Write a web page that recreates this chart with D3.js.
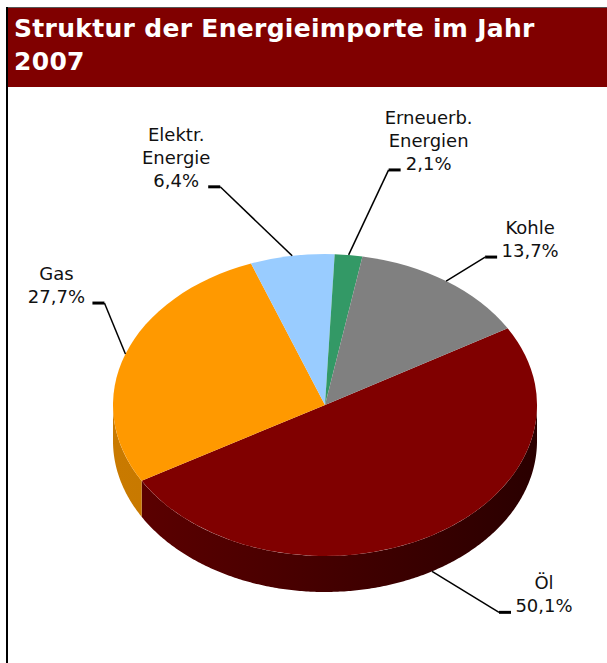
<!DOCTYPE html>
<html>
<head>
<meta charset="utf-8">
<script src="https://cdn.jsdelivr.net/npm/d3@7"></script>
<style>
  body { margin: 0; background: #fff; }
  svg { display: block; font-family: "DejaVu Sans", Verdana, sans-serif; }
</style>
</head>
<body>
<svg class="chart"></svg>
<script>
const categories = ['Öl', 'Gas', 'Elektr. Energie', 'Erneuerb. Energien', 'Kohle'];
const labelLines = [['Öl'], ['Gas'], ['Elektr.', 'Energie'], ['Erneuerb.', 'Energien'], ['Kohle']];
const shares = [50.1, 27.7, 6.4, 2.1, 13.7];
const colors = ['#800000', '#ff9900', '#99ccff', '#339966', '#808080'];
const sideColors = [['#5e0000', '#2a0000'], ['#c97a00', '#b86e00'], ['#6f97c0', '#6f97c0'], ['#22704a', '#22704a'], ['#5a5a5a', '#5a5a5a']];
// label elbow offset from anchor, tick direction, text centre offset from elbow
const labelLayout = [
  { dx: 67, dy: 41, dir: 1, tx: 45 },
  { dx: -21, dy: -51, dir: -1, tx: -48 },
  { dx: -72, dy: -69, dir: -1, tx: -44 },
  { dx: 40, dy: -85, dir: 1, tx: 40 },
  { dx: 39, dy: -24, dir: 1, tx: 45 },
];
const title = ['Struktur der Energieimporte im Jahr', '2007'];

const [width, height] = [607, 663];
const svg = d3.select('.chart').attr('width', width).attr('height', height);

svg.append('line').attr('x1', 6).attr('x2', width).attr('y1', 7.5).attr('y2', 7.5)
  .attr('stroke', '#555').attr('stroke-width', 1);
svg.append('rect').attr('x', 6).attr('y', 8).attr('width', width - 6).attr('height', 79).attr('fill', '#800000');
svg.append('line').attr('x1', 7).attr('x2', 7).attr('y1', 7).attr('y2', height)
  .attr('stroke', '#000').attr('stroke-width', 2);
svg.append('g').selectAll('text').data(title).enter().append('text')
  .attr('x', 14).attr('y', (d, i) => 37 + i * 33)
  .attr('fill', '#fff').attr('font-weight', 'bold').attr('font-size', 25)
  .attr('letter-spacing', 0.3)
  .text(d => d);

const [cx, cy, rx, ry, depth] = [325, 405, 212, 151, 36];
const start = 59.5 * Math.PI / 180;
const pie = d3.pie().sort(null).startAngle(start).endAngle(start + 2 * Math.PI);
const arcs = pie(shares);

const pt = (a, off = 0) => [cx + rx * Math.sin(a), cy - ry * Math.cos(a) + off];

const defs = svg.append('defs');
arcs.forEach((d, i) => {
  const g = defs.append('linearGradient').attr('id', `side${i}`)
    .attr('gradientUnits', 'userSpaceOnUse')
    .attr('x1', cx - rx).attr('x2', cx + rx).attr('y1', 0).attr('y2', 0);
  g.append('stop').attr('offset', 0).attr('stop-color', sideColors[i][0]);
  g.append('stop').attr('offset', 1).attr('stop-color', sideColors[i][1]);
});

// side walls for the front half
const sides = svg.append('g');
arcs.forEach((d, i) => {
  const segs = [];
  [0, 2 * Math.PI].forEach(shift => {
    const a0 = Math.max(d.startAngle - shift, Math.PI / 2);
    const a1 = Math.min(d.endAngle - shift, 3 * Math.PI / 2);
    if (a1 > a0) segs.push([a0, a1]);
  });
  segs.forEach(([a0, a1]) => {
    const steps = d3.range(a0, a1, 0.01).concat([a1]);
    const top = steps.map(a => pt(a));
    const bottom = steps.slice().reverse().map(a => pt(a, depth));
    sides.append('path')
      .attr('d', d3.line()(top.concat(bottom)) + 'Z')
      .attr('fill', `url(#side${i})`);
  });
});

// top faces
svg.append('g')
  .attr('transform', `translate(${cx},${cy}) scale(1,${ry / rx})`)
  .selectAll('path').data(arcs).enter().append('path')
  .attr('d', d3.arc().innerRadius(0).outerRadius(rx))
  .attr('fill', (d, i) => colors[i]);

// labels with leader lines
const labels = svg.append('g');
arcs.forEach((d, i) => {
  const mid = (d.startAngle + d.endAngle) / 2;
  const front = Math.cos(mid) < 0;
  const [ax, ay] = pt(mid, front ? depth : 0);
  const L = labelLayout[i];
  const ex = ax + L.dx, ey = ay + L.dy;
  labels.append('line').attr('x1', ax).attr('y1', ay).attr('x2', ex).attr('y2', ey)
    .attr('stroke', '#000').attr('stroke-width', 1.5);
  labels.append('line').attr('x1', ex).attr('y1', ey).attr('x2', ex + L.dir * 12).attr('y2', ey)
    .attr('stroke', '#000').attr('stroke-width', 3);
  const lines = labelLines[i].concat([d3.format('.1f')(shares[i]).replace('.', ',') + '%']);
  labels.append('g').selectAll('text').data(lines).enter().append('text')
    .attr('x', ex + L.tx)
    .attr('y', (t, j) => ey - (lines.length - 1 - j) * 23)
    .attr('text-anchor', 'middle').attr('font-size', 18).attr('fill', '#111')
    .text(t => t);
});
</script>
</body>
</html>
